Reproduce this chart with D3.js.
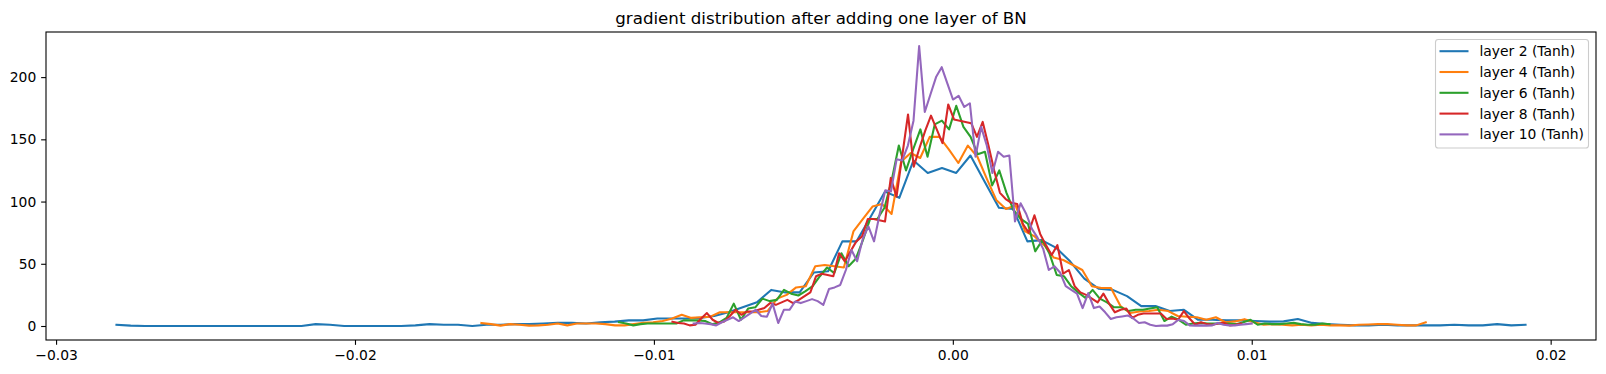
<!DOCTYPE html>
<html><head><meta charset="utf-8">
<script src="https://cdn.jsdelivr.net/npm/d3@7"></script>
<style>
body{margin:0;background:#fff;}
svg{display:block;}
text{font-family:"DejaVu Sans",sans-serif;fill:#000;}
</style>
</head><body>
<svg id="c" width="1606" height="374"></svg>
<script>
const titleText = "gradient distribution after adding one layer of BN";
const seriesNames = ["layer 2 (Tanh)", "layer 4 (Tanh)", "layer 6 (Tanh)", "layer 8 (Tanh)", "layer 10 (Tanh)"];
const seriesColors = ["#1f77b4", "#ff7f0e", "#2ca02c", "#d62728", "#9467bd"];
// histogram range (first and last bin edge) of each layer
const binStart = [-0.02798, -0.01577, -0.01117, -0.00938, -0.00867];
const binEnd   = [ 0.01916,  0.01582,  0.01260,  0.00965,  0.01000];

const layer2 = [1,0.3,0,0,0,0,0,0,0,0,0,0,0,0,1.5,1,0,0,0,0,0,0.5,1.5,1,1,0,1,1,1.5,1.5,
  2,2.5,2.5,2,3,3.5,4.5,4.5,6,6,6,6.5,8,11,15,19,29,27,27,43,44,68,68,88,108,103,133,123,127,123,
  137,116,95,94,68,69,63,52,38,30,29,24,16,16,12,13,5,5,4.5,4.5,4,3.5,3.7,5.6,2.5,1.5,1,0.5,0.5,1,
  0.5,0.5,0.5,0.5,1,0.5,0.5,1.5,0.5,1];
const layer4 = [2.4,1.5,0.3,1.5,1,0.3,0.5,1,2,0.5,2,2,2,1.5,0.5,0.5,1.5,2.5,3,4,6,9,6.5,7,7.5,11,
  11,11,11,11,12,22,25,31,32,48,49,48,47,76,86,96,98,90,132,139,135,152,152,142,131,145,136,118,101,94,97,
  76,72,65,55,53,49,45,32,30.5,30.5,16,10.5,11.7,12,13,12,8,7.5,7,5,7,3,3.7,5.5,3,
  1,1.5,1,0.5,1,0.5,1,0.5,0.5,0.3,1,1.2,1.5,1.5,1,0.5,0.5,3];
const layer6 = [3,2,0.5,1.5,2,2,2,2,2,4.5,4.5,4.5,4,1.5,3,6.5,18,5,14,15,22,20,21,29,26,24.5,28,32,40,47,42.5,58.5,48,54,69,86,86,
  95,117,145,125,142,158,136,162,165,158,177,
  160,152,138,140,113,125,107,93,86,82,60,69,58,41,40,32,27,22.5,
  29,22,19,15,15,12,13,13,14,15,4,7.5,5,1,2,2.5,2,2,2,2,1.5,3,5,1,
  2,1.5,1.5,2,2.5,1.5,1,1,2,1.5];
const layer8 = [3.5,2.4,2,0.5,1,6,10.4,5,2.4,3.7,8,13,9,11.7,11.7,13,14.4,18.4,17,19,21,18.4,21,24,27,40,42,41,40,
  58.5,52,60,68,72,86,86,85,84,119,104,137,170,128,143,157,169,158,147,178,166,165,164,163,152,164,145,125,107,102,99,98,82,75,89,74,65,57,65,42,45,32,
  27,25,22,19,26,18,11,13,14,6.5,9,10,10,10,10,5.6,6,5,12,6,1,3,1.5,1,2,2.5,0.5,1,2];
const layer10 = [2,2.4,2,1.5,0.5,3,5,7,4,7,10,13,8,7.5,18,2.4,13,13,19.7,18.4,20,21.6,20,17,29.7,31,33,
  45,61,52,70,80,68,90,109,108,134,133,145,165,225,172,186,200,208,195,182,185,176,179,136,160,145,123,140,136,137,
  84,98.6,90,78,71,62,45,48,43,32,29,26,14.4,26.5,14.4,15.7,11,5.6,7,7.7,8.5,6,2.4,3,1,0,0.3,0.3,1.5,5,4,0.5,0.3,0.5,0.3,0.5,2.5,1,0.5,0.5,1,1.5,2];
const seriesValues = [layer2, layer4, layer6, layer8, layer10];
const xTicks = [-0.03, -0.02, -0.01, 0.00, 0.01, 0.02];
const yTicks = [0, 50, 100, 150, 200];

// build point lists from bin edges
const data = seriesValues.map((vals, k) => {
  const n = vals.length, w = (binEnd[k] - binStart[k]) / (n - 1);
  return vals.map((v, i) => ({x: binStart[k] + i * w, y: v}));
});

const W = 1606, H = 374;
const m = {left: 46, top: 32, right: 10, bottom: 34};
const pw = W - m.left - m.right, ph = H - m.top - m.bottom;

const allX = data.flat().map(d => d.x), allY = data.flat().map(d => d.y);
const x0 = d3.min(allX), x1 = d3.max(allX), y0 = d3.min(allY), y1 = d3.max(allY);
const xp = (x1 - x0) * 0.05, yp = (y1 - y0) * 0.05;
const x = d3.scaleLinear().domain([x0 - xp, x1 + xp]).range([m.left, m.left + pw]);
const y = d3.scaleLinear().domain([y0 - yp, y1 + yp]).range([m.top + ph, m.top]);

const svg = d3.select("#c");
const fs = 13.89, tl = 4.86, tp = 4.86;

const line = d3.line().x(d => x(d.x)).y(d => y(d.y));
const g = svg.append("g");
data.forEach((pts, k) => {
  g.append("path").attr("d", line(pts)).attr("fill", "none")
    .attr("stroke", seriesColors[k]).attr("stroke-width", 2.08)
    .attr("stroke-linejoin", "round").attr("stroke-linecap", "square");
});

// axes
const xa = svg.append("g").attr("transform", `translate(0,${m.top + ph})`)
  .call(d3.axisBottom(x).tickValues(xTicks).tickFormat(d3.format(".2f")).tickSize(tl).tickPadding(tp).tickSizeOuter(0));
const ya = svg.append("g").attr("transform", `translate(${m.left},0)`)
  .call(d3.axisLeft(y).tickValues(yTicks).tickFormat(d3.format("d")).tickSize(tl).tickPadding(tp).tickSizeOuter(0));
[xa, ya].forEach(a => {
  a.select(".domain").remove();
  a.selectAll(".tick line").attr("stroke", "#000").attr("stroke-width", 1.1);
  a.selectAll(".tick text").attr("font-size", fs).attr("font-family", "DejaVu Sans").attr("fill", "#000");
});

svg.append("rect").attr("x", m.left).attr("y", m.top).attr("width", pw).attr("height", ph)
  .attr("fill", "none").attr("stroke", "#000").attr("stroke-width", 1.1);

svg.append("text").attr("x", m.left + pw / 2).attr("y", 24).attr("text-anchor", "middle")
  .attr("font-size", 16.67).text(titleText);

// legend
const lg = svg.append("g");
const lx = 1435.5, ly = 39.5, lw = 153, lh = 108.5, rowH = 20.8;
lg.append("rect").attr("x", lx).attr("y", ly).attr("width", lw).attr("height", lh)
  .attr("rx", 2.8).attr("fill", "#fff").attr("fill-opacity", 0.8)
  .attr("stroke", "#cccccc").attr("stroke-width", 1.1);
seriesNames.forEach((name, k) => {
  const cy = ly + 11.7 + k * rowH;
  lg.append("line").attr("x1", lx + 4).attr("x2", lx + 33).attr("y1", cy).attr("y2", cy)
    .attr("stroke", seriesColors[k]).attr("stroke-width", 2.08);
  lg.append("text").attr("x", lx + 44).attr("y", cy + 5).attr("font-size", fs).text(name);
});
</script>
</body></html>
